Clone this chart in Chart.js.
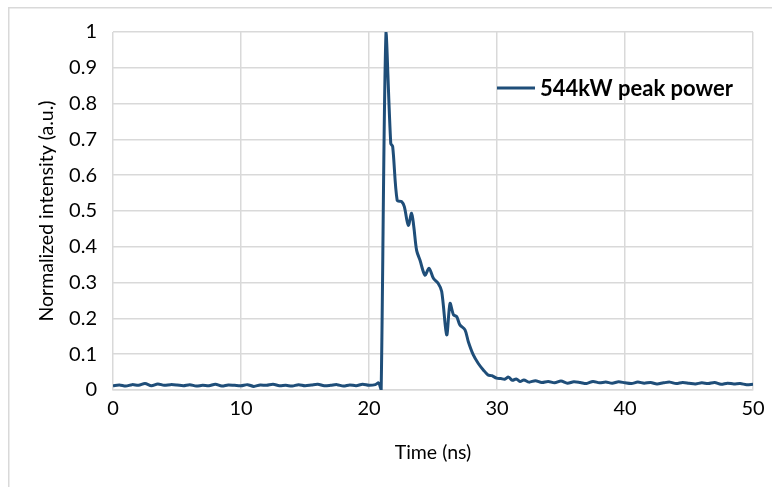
<!DOCTYPE html>
<html>
<head>
<meta charset="utf-8">
<script src="https://cdn.jsdelivr.net/npm/chart.js@4.4.1/dist/chart.umd.min.js"></script>
<style>
  html, body { margin: 0; padding: 0; background: #fff; }
</style>
</head>
<body>
<canvas id="pulse" width="772" height="487"></canvas>
<script>
// time axis (ns) and normalized intensity of the measured pulse
const timeNs = [
  0, 0.5, 1, 1.5, 2, 2.5, 3, 3.5, 4, 4.5, 5, 5.5, 6, 6.5, 7, 7.5, 8, 8.5, 9, 9.5,
  10, 10.5, 11, 11.5, 12, 12.5, 13, 13.5, 14, 14.5, 15, 15.5, 16, 16.5, 17, 17.5, 18, 18.5, 19, 19.5,
  20, 20.5, 20.75, 20.85, 20.95, 21.33, 21.7, 21.85, 22.2, 22.55, 22.76, 23.07, 23.33, 23.5, 23.72, 23.98,
  24.37, 24.69, 25.03, 25.4, 25.68, 26.07, 26.33, 26.6, 26.85, 27.1, 27.5, 27.76, 28.15, 28.54, 28.93,
  29.3, 29.6, 29.97, 30.3, 30.6, 30.9, 31.2, 31.5, 31.8, 32.1, 32.5, 33, 33.5, 34, 34.5, 35, 35.5,
  36, 36.5, 37, 37.5, 38, 38.5, 39, 39.5, 40, 40.5, 41, 41.5, 42, 42.5, 43, 43.5, 44, 44.5, 45, 45.5,
  46, 46.5, 47, 47.5, 48, 48.5, 49, 49.5, 50
];
const intensity = [
  0.012, 0.014, 0.011, 0.015, 0.013, 0.018, 0.012, 0.017, 0.013, 0.015, 0.014, 0.012, 0.015, 0.011, 0.013, 0.012, 0.016, 0.011, 0.014, 0.013,
  0.012, 0.015, 0.010, 0.014, 0.013, 0.016, 0.012, 0.013, 0.011, 0.015, 0.012, 0.014, 0.016, 0.012, 0.013, 0.015, 0.011, 0.014, 0.012, 0.016,
  0.013, 0.015, 0.020, 0.012, 0.000, 1.000, 0.689, 0.680, 0.530, 0.526, 0.512, 0.460, 0.494, 0.456, 0.390, 0.363,
  0.321, 0.340, 0.312, 0.298, 0.275, 0.154, 0.242, 0.210, 0.205, 0.182, 0.168, 0.135, 0.098, 0.074, 0.056,
  0.042, 0.040, 0.033, 0.032, 0.030, 0.036, 0.027, 0.031, 0.024, 0.028, 0.022, 0.026, 0.021, 0.024, 0.020, 0.025, 0.019,
  0.023, 0.021, 0.018, 0.024, 0.020, 0.022, 0.019, 0.023, 0.020, 0.018, 0.022, 0.019, 0.021, 0.017, 0.020, 0.022, 0.018, 0.021, 0.019, 0.017,
  0.020, 0.018, 0.021, 0.016, 0.019, 0.017, 0.018, 0.015, 0.016
];
const xTicks = [0, 10, 20, 30, 40, 50];
const seriesName = '544kW peak power';

const FONT = 'Lato, "Open Sans", sans-serif';
const GRID = '#d9d9d9';
const LINE = '#1f4e79';

// outer frame and the in-plot legend entry
const decor = {
  id: 'decor',
  beforeDraw(chart) {
    const ctx = chart.ctx;
    ctx.save();
    ctx.fillStyle = '#fff';
    ctx.fillRect(0, 0, chart.width, chart.height);
    ctx.strokeStyle = GRID;
    ctx.lineWidth = 1.5;
    ctx.strokeRect(8.75, 7.75, chart.width + 20, chart.height + 20);
    ctx.restore();
  },
  afterDraw(chart) {
    const ctx = chart.ctx;
    const area = chart.chartArea;
    const y = area.top + 56;
    ctx.save();
    ctx.strokeStyle = LINE;
    ctx.lineWidth = 3;
    ctx.beginPath();
    ctx.moveTo(area.right - 256, y);
    ctx.lineTo(area.right - 218, y);
    ctx.stroke();
    ctx.fillStyle = '#000';
    ctx.font = 'bold 22px ' + FONT;
    ctx.textBaseline = 'middle';
    ctx.fillText(seriesName, area.right - 213, y + 1);
    ctx.restore();
  }
};

new Chart(document.getElementById('pulse'), {
  type: 'line',
  data: {
    datasets: [{
      label: seriesName,
      data: timeNs.map((t, i) => ({ x: t, y: intensity[i] })),
      borderColor: LINE,
      borderWidth: 3,
      pointRadius: 0,
      tension: 0.3,
      fill: false
    }]
  },
  options: {
    responsive: false,
    animation: false,
    devicePixelRatio: 1,
    layout: { padding: { left: 0, right: 19, top: 32, bottom: 0 } },
    plugins: { legend: { display: false }, tooltip: { enabled: false } },
    scales: {
      x: {
        type: 'linear',
        min: 0,
        max: 50,
        afterBuildTicks: (s) => { s.ticks = xTicks.map(v => ({ value: v })); },
        afterFit: (s) => { s.height = 97; },
        grid: { color: GRID, lineWidth: 1.5, drawTicks: false },
        border: { color: GRID, width: 1.5 },
        ticks: { padding: 7, color: '#000', font: { family: FONT, size: 20 } },
        title: { display: true, text: 'Time (ns)', color: '#000', padding: { top: 23, bottom: 23 }, font: { family: FONT, size: 19.5 } }
      },
      y: {
        min: 0,
        max: 1,
        afterFit: (s) => { s.width = 113; },
        grid: { color: GRID, lineWidth: 1.5, drawTicks: false },
        border: { display: false },
        ticks: { stepSize: 0.1, padding: 16, color: '#000', font: { family: FONT, size: 20 },
          callback: (v) => Math.round(v * 10) / 10 },
        title: { display: true, text: 'Normalized intensity (a.u.)', color: '#000', padding: { top: 35, bottom: 35 }, font: { family: FONT, size: 19.5 } }
      }
    }
  },
  plugins: [decor]
});
</script>
</body>
</html>
